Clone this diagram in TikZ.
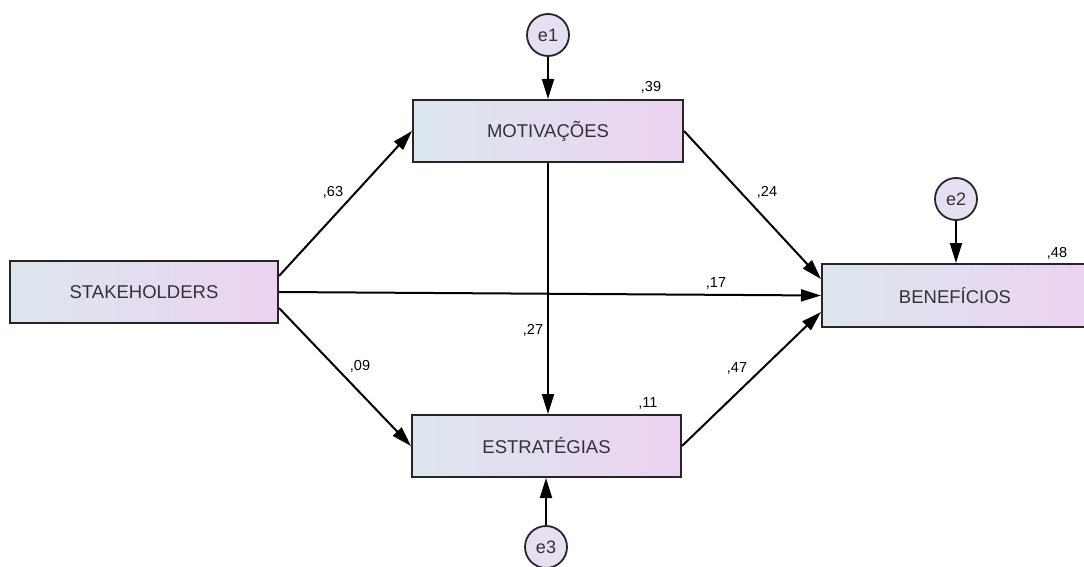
\documentclass[tikz,border=0pt]{standalone}
\usepackage{fontspec}
\setmainfont{Liberation Sans}
\usetikzlibrary{arrows.meta}
\definecolor{boxleft}{HTML}{DCE6EE}
\definecolor{boxright}{HTML}{ECD3F1}
\definecolor{circfill}{HTML}{E8DEF2}
\definecolor{edge}{HTML}{262626}
\definecolor{txt}{HTML}{333333}
\tikzset{
  varbox/.style={rectangle, draw=edge, line width=2pt, inner sep=0pt,
    left color=boxleft, right color=boxright,
    minimum width=#1, minimum height=62pt, text=txt,
    font=\fontsize{18.5}{22}\selectfont},
  errcirc/.style={circle, draw=edge, line width=1.8pt, inner sep=0pt,
    left color=circfill!80!boxleft, right color=circfill, minimum size=42pt,
    text=txt, font=\fontsize{18}{21}\selectfont},
  coef/.style={inner sep=0pt, text=black, font=\fontsize{14.5}{17}\selectfont},
  path/.style={draw=black, line width=2pt, -{Triangle[length=20pt,width=12pt]}}
}
\begin{document}
\begin{tikzpicture}[x=1pt,y=-1pt]
\useasboundingbox (0,0) rectangle (1084,567);
\begin{scope}
\clip (0,0) rectangle (1084,567);
\node[varbox=268pt] (stk) at (144,292) {STAKEHOLDERS};
\node[varbox=270pt] (mot) at (548,131) {MOTIVAÇÕES};
\node[varbox=269pt] (est) at (546.5,446) {ESTRATÉGIAS};
\node[varbox=266pt, minimum height=63pt] (ben) at (955,295.5) {BENEFÍCIOS};
\node[errcirc] (e1) at (548,35) {e1};
\node[errcirc] (e2) at (956,199) {e2};
\node[errcirc] (e3) at (546,547) {e3};

\draw[path] ([yshift=16pt]stk.east) -- (mot.west);
\draw[path] (stk.east) -- (ben.west);
\draw[path] ([yshift=-16pt]stk.east) -- (est.west);
\draw[path] (mot.east) -- ([yshift=16.5pt]ben.west);
\draw[path] (est.east) -- ([yshift=-16.5pt]ben.west);
\draw[path] (mot.south) -- ([xshift=1.5pt]est.north);
\draw[path] (e1) -- (mot.north);
\draw[path] (e2) -- ([xshift=1pt]ben.north);
\draw[path] (e3) -- ([xshift=-0.5pt]est.south);

\node[coef] (c39) at (651,87) {,39};
\node[coef] (c63) at (333,192) {,63};
\node[coef] (c24) at (767,192) {,24};
\node[coef] (c48) at (1057,253) {,48};
\node[coef] (c17) at (716,283) {,17};
\node[coef] (c27) at (533,330) {,27};
\node[coef] (c09) at (360,366) {,09};
\node[coef] (c47) at (737,368) {,47};
\node[coef] (c11) at (648,403) {,11};
\end{scope}
\end{tikzpicture}
\end{document}
